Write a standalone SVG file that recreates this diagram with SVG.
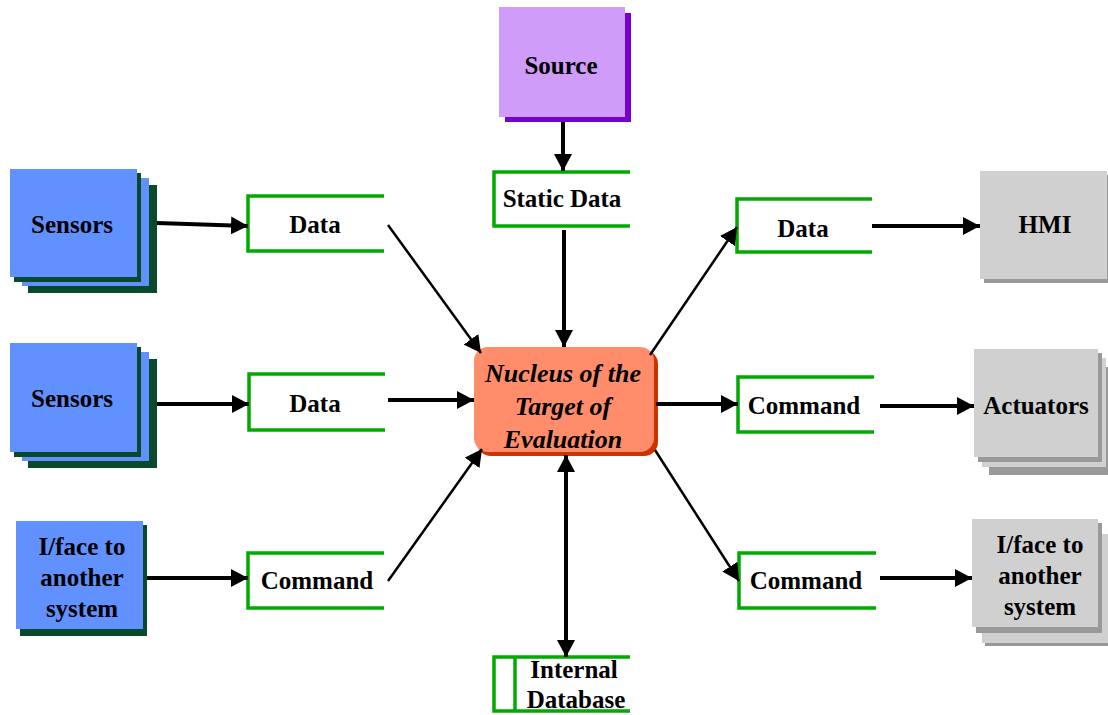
<svg xmlns="http://www.w3.org/2000/svg" width="1108" height="715" viewBox="0 0 1108 715">
<defs>
<marker id="ah" markerUnits="userSpaceOnUse" markerWidth="18" markerHeight="18" viewBox="0 0 18 18" refX="17" refY="9" orient="auto-start-reverse">
<path d="M0,0 L17,9 L0,18 z" fill="#000"/>
</marker>
</defs>
<style>
.blue{fill:#6190ff}
.dkg{fill:#094a2c}
.gray{fill:#d0d0d0}
.gsh{fill:#999999}
.grn{fill:#fff;stroke:#00aa00;stroke-width:3.5}
.t{font-family:"Liberation Serif","Times New Roman",serif;font-weight:bold;font-size:25px;fill:#000;text-anchor:middle}
.it{font-style:italic;font-size:26px}
.c line{stroke:#000;stroke-width:4;marker-end:url(#ah)}
.c line.thin{stroke-width:2.5}
</style>
<rect width="1108" height="715" fill="#fff"/>

<g id="sensors1">
<rect class="dkg" x="28" y="185" width="129" height="108"/>
<rect class="blue" x="22" y="178" width="127" height="108"/>
<rect class="dkg" x="14" y="173" width="127" height="109"/>
<rect class="blue" x="10" y="169" width="127" height="108"/>
<text class="t" x="72" y="233" font-size="27.5">Sensors</text>
</g>
<g id="sensors2">
<rect class="dkg" x="28" y="359" width="129" height="109"/>
<rect class="blue" x="22" y="352" width="127" height="109"/>
<rect class="dkg" x="14" y="347" width="127" height="110"/>
<rect class="blue" x="10" y="343" width="127" height="109"/>
<text class="t" x="72" y="407" font-size="27.5">Sensors</text>
</g>
<g id="iface_left">
<rect class="dkg" x="20" y="525" width="127" height="111"/>
<rect class="blue" x="16" y="521" width="127" height="108"/>
<text class="t" x="82" y="555">I/face to</text>
<text class="t" x="82" y="586">another</text>
<text class="t" x="82" y="617">system</text>
</g>

<g id="data_left1">
<path class="grn" d="M384,196 H248 V251 H384"/>
<text class="t" x="315" y="233">Data</text>
</g>
<g id="data_left2">
<path class="grn" d="M385,374 H249 V430 H385"/>
<text class="t" x="315" y="412">Data</text>
</g>
<g id="command_left">
<path class="grn" d="M384,553 H248 V608 H384"/>
<text class="t" x="317" y="589">Command</text>
</g>

<g id="source">
<rect x="505" y="13" width="126" height="109" fill="#7700cc"/>
<rect x="499" y="7" width="126" height="110" fill="#d09cf9"/>
<text class="t" x="561" y="74" font-size="27.5">Source</text>
</g>
<g id="static_data">
<path class="grn" d="M630,172 H494 V226 H630"/>
<text class="t" x="562" y="207" font-size="26">Static Data</text>
</g>

<g id="nucleus">
<rect x="477" y="350" width="181" height="106" rx="14" fill="#cc3300"/>
<rect x="474" y="347" width="180" height="105" rx="14" fill="#ff8c6a"/>
<text class="t it" x="563" y="382">Nucleus of the</text>
<text class="t it" x="563" y="415">Target of</text>
<text class="t it" x="563" y="448">Evaluation</text>
</g>

<g id="internal_database">
<path class="grn" d="M630,657 H494 V711 H630"/>
<line x1="515" y1="657" x2="515" y2="711" stroke="#00aa00" stroke-width="3.5"/>
<text class="t" x="574" y="678">Internal</text>
<text class="t" x="576" y="708">Database</text>
</g>

<g id="data_right">
<path class="grn" d="M872,199 H737 V252 H872"/>
<text class="t" x="803" y="237">Data</text>
</g>
<g id="command_right1">
<path class="grn" d="M874,377 H738 V432 H874"/>
<text class="t" x="804" y="414">Command</text>
</g>
<g id="command_right2">
<path class="grn" d="M876,553 H739 V608 H876"/>
<text class="t" x="806" y="589">Command</text>
</g>

<g id="hmi">
<rect class="gsh" x="984" y="175" width="127" height="108"/>
<rect class="gray" x="980" y="171" width="127" height="108"/>
<text class="t" x="1045" y="233">HMI</text>
</g>
<g id="actuators">
<rect class="gsh" x="989" y="367" width="124" height="108"/>
<rect class="gray" x="982" y="358" width="124" height="109"/>
<rect class="gsh" x="978" y="353" width="124" height="109"/>
<rect class="gray" x="974" y="349" width="124" height="108"/>
<text class="t" x="1036" y="414">Actuators</text>
</g>
<g id="iface_right">
<rect class="gsh" x="985" y="537" width="126" height="109"/>
<rect class="gray" x="982" y="534" width="126" height="109"/>
<rect class="gsh" x="976" y="523" width="126" height="110"/>
<rect class="gray" x="972" y="519" width="126" height="108"/>
<text class="t" x="1040" y="553">I/face to</text>
<text class="t" x="1040" y="584">another</text>
<text class="t" x="1040" y="615">system</text>
</g>

<g id="connectors" class="c">
<line x1="157" y1="223" x2="248" y2="226"/>
<line x1="157" y1="404" x2="249" y2="404"/>
<line x1="147" y1="578" x2="248" y2="578"/>
<line class="thin" x1="388" y1="225" x2="481" y2="353"/>
<line x1="388" y1="400" x2="474" y2="400"/>
<line class="thin" x1="388" y1="581" x2="482" y2="449"/>
<line x1="563" y1="122" x2="563" y2="171"/>
<line x1="564" y1="230" x2="564" y2="347"/>
<line x1="566" y1="455" x2="566" y2="657" style="marker-start:url(#ah)"/>
<line class="thin" x1="650" y1="355" x2="737" y2="227"/>
<line x1="656" y1="404" x2="738" y2="404"/>
<line class="thin" x1="655" y1="450" x2="739" y2="581"/>
<line x1="872" y1="226" x2="980" y2="226"/>
<line x1="880" y1="406" x2="974" y2="406"/>
<line x1="880" y1="578" x2="972" y2="578"/>
</g>
</svg>
